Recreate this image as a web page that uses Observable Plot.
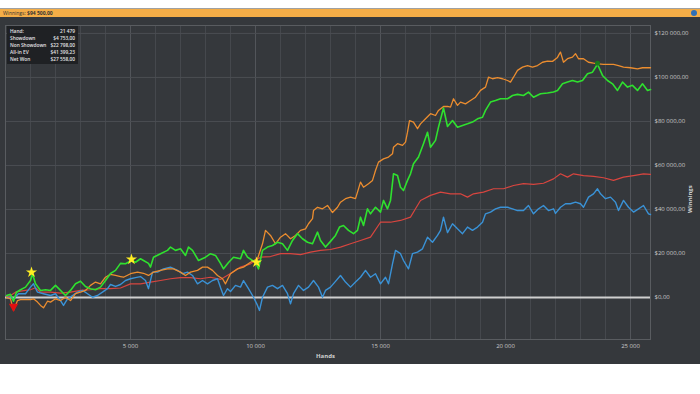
<!DOCTYPE html>
<html>
<head>
<meta charset="utf-8">
<script src="https://cdn.jsdelivr.net/npm/d3@7"></script>
<script src="https://cdn.jsdelivr.net/npm/@observablehq/plot@0.6"></script>
<style>
  body { margin:0; background:#fff; font-family:"Open Sans", "DejaVu Sans", sans-serif; }
  #wrap { position:relative; width:700px; height:394px; overflow:hidden; }
  #topline { position:absolute; top:8px; left:0; width:700px; height:1px; background:#a0a0a0; }
  #bar { position:absolute; top:9px; left:0; width:700px; height:8px; background:#f4ad47; font-size:5px; line-height:8px; color:#333; padding-left:3px; box-sizing:border-box; }
  #icon { position:absolute; top:10px; left:691px; width:6px; height:6px; border-radius:3px; background:#2f6fb5; }
  #dark { position:absolute; top:17px; left:0; width:700px; height:347px; background:#35383c; }
  #tip { position:absolute; top:26px; left:7px; width:71px; height:38px; background:#1f2124; color:#e4e4e4; font-size:4.8px; font-weight:600; }
  #tip .row { position:absolute; left:3px; right:3px; height:7px; line-height:7px; white-space:nowrap; }
  #tip .row span.v { position:absolute; right:0; }
</style>
</head>
<body>
<div id="wrap">
  <div id="topline"></div>
  <div id="bar">Winnings: <b>$94 500,00</b></div>
  <div id="icon"></div>
  <div id="dark"></div>
  <div id="tip"></div>
</div>
<script>
// ---- data (hands, values in $ thousands) ----
const greenHands = [40,200,320,440,600,800,1000,1080,1200,1400,1600,1800,2000,2200,2400,2600,2800,3000,3200,3400,3600,3800,4000,4200,4400,4600,4800,5040,5200,5400,5520,5720,5800,5920,6200,6480,6600,6800,7000,7200,7320,7480,7720,8000,8200,8400,8600,8720,8920,9120,9400,9520,9680,9880,10000,10120,10280,10480,10680,10880,11080,11280,11480,11680,11880,12080,12280,12480,12600,12800,13000,13200,13360,13520,13720,13920,14080,14200,14320,14480,14600,14800,15000,15120,15280,15400,15520,15680,15800,15920,16080,16200,16320,16520,16720,16880,17000,17200,17320,17520,17680,17880,18080,18280,18480,18680,18880,19080,19200,19400,19600,19800,20080,20280,20480,20720,20920,21120,21400,21680,21920,22080,22280,22480,22680,22880,23080,23280,23480,23680,23880,24080,24280,24480,24680,24880,25080,25280,25480,25680,25800];
const greenValues = [0.9,1.4,-1.7,2.4,3.5,4.7,7.7,10.8,6.2,3.2,3.5,3.2,5.5,3.2,0.9,3.2,6.2,7.4,5.0,4.0,3.5,4.7,7.7,10.9,12.3,15.5,15.3,16.8,16.0,17.6,16.8,15.5,13.8,18.3,19.9,21.4,22.9,21.4,22.1,19.1,22.9,21.4,16.8,18.3,19.9,19.1,15.5,13.0,15.9,18.3,17.6,21.4,18.3,16.8,16.0,13.0,21.4,22.9,23.6,25.1,24.4,21.4,25.9,29.0,26.7,25.1,24.4,29.7,25.9,22.9,25.5,28.2,32.0,32.7,30.5,29.0,30.5,36.5,32.7,40.3,38.0,41.0,38.8,44.1,40.3,44.1,56.2,55.4,50.1,48.6,53.2,56.2,60.8,63.8,69.9,75.1,68.3,71.4,77.4,86.1,77.7,80.4,77.4,78.2,78.9,79.7,81.2,81.9,85.0,88.8,89.5,90.3,90.3,91.8,92.3,91.8,93.3,91.0,92.6,92.9,93.4,94.1,97.1,97.9,98.6,97.9,98.6,101.7,102.4,106.0,100.9,98.6,97.1,94.1,97.9,95.6,96.4,94.1,97.1,94.1,94.5];

const orangeHands = [40,200,320,480,600,800,1000,1120,1280,1400,1520,1680,1800,2000,2200,2400,2600,2800,3000,3200,3400,3600,3800,4000,4200,4400,4600,4720,5000,5280,5520,5720,5920,6200,6480,6720,7000,7200,7400,7680,7880,8080,8280,8480,8680,8800,9000,9280,9520,9800,10080,10280,10400,10600,10800,11000,11200,11400,11600,11800,12000,12120,12280,12320,12480,12680,12880,13080,13280,13400,13600,13800,14000,14080,14200,14320,14520,14680,14800,14920,15120,15320,15480,15520,15680,15880,16000,16080,16160,16320,16480,16600,16800,17000,17200,17320,17520,17680,17800,17920,18080,18200,18400,18600,18800,19000,19200,19320,19480,19680,19880,20080,20200,20320,20480,20680,20880,21080,21280,21480,21680,21880,22080,22160,22200,22320,22480,22680,22800,22920,23120,23320,23520,23720,23920,24120,24320,24520,24720,25000,25280,25480,25800];
const orangeValues = [0,-0.6,-5.9,-1.4,-1.0,-1.0,-1.0,-0.6,-2.1,-3.6,-4.7,-1.7,-2.1,-0.6,-1.4,0.1,-1.4,1.7,2.4,3.2,5.5,7.0,6.2,9.2,10.5,10.0,9.5,9.2,10.8,11.5,11.0,10.0,11.5,12.3,13.0,13.0,11.5,10.0,11.5,12.3,13.8,13.8,12.3,10.0,8.5,6.2,10.8,13.0,13.8,16.0,17.6,24.4,30.5,28.2,24.4,27.4,29.0,26.7,28.2,30.5,31.2,33.5,35.8,39.5,41.0,40.3,41.8,38.6,41.0,43.3,44.9,45.6,44.9,47.9,52.4,50.1,51.7,53.2,57.7,61.5,63.0,63.8,65.3,68.3,69.9,69.1,70.6,75.1,80.4,79.7,76.7,78.9,81.2,83.5,82.7,85.0,86.8,86.8,86.5,90.3,87.3,88.8,88.0,89.5,91.0,94.1,95.6,100.1,99.4,99.9,99.4,98.6,97.9,100.1,103.2,104.7,105.4,104.7,105.4,106.9,107.4,107.3,109.1,110.8,111.5,106.9,108.5,109.2,110.8,108.5,108.5,106.9,106.5,106.2,105.9,105.9,105.9,105.4,104.7,104.4,103.9,104.4,104.4];

const redHands = [40,200,400,600,800,1000,1200,1400,1800,2200,2600,3000,3400,3800,4200,4600,5000,5400,5800,6200,6600,7000,7400,7800,8200,8600,9000,9400,9800,10200,10600,11000,11400,11800,12200,12600,13000,13400,13800,14200,14600,15000,15400,15800,16200,16400,16600,17000,17400,17800,18200,18480,18720,19120,19520,19920,20320,20720,21120,21520,21920,22200,22480,22720,23120,23520,23920,24320,24720,25120,25520,25800];
const redValues = [0,0.9,2.4,2.9,3.2,3.5,4.4,2.4,2.4,2.0,2.4,3.2,3.5,4.0,4.0,4.3,6.2,6.2,7.0,7.7,8.5,9.0,9.0,8.5,9.2,8.2,10.9,13.8,15.3,18.3,18.6,19.9,19.9,19.5,20.6,21.4,21.8,22.9,24.4,25.9,27.4,34.2,34.2,35.0,36.5,40.3,44.1,46.4,47.9,47.1,47.1,45.6,47.1,47.9,49.4,49.4,50.9,51.7,51.4,51.9,53.9,56.2,54.7,56.2,55.4,55.0,54.4,53.2,54.7,55.4,56.2,55.9];

const blueHands = [80,320,520,800,1000,1120,1280,1520,1800,2000,2200,2320,2480,2680,2880,3080,3280,3480,3680,3880,4080,4200,4400,4600,4800,5000,5200,5400,5600,5720,5880,6080,6320,6600,6880,7080,7280,7480,7680,7880,8080,8280,8480,8600,8720,8880,9000,9200,9400,9520,9720,9920,10080,10160,10280,10480,10680,10880,11080,11280,11400,11520,11720,11920,12120,12320,12520,12680,12800,13000,13200,13400,13600,13800,14000,14200,14400,14600,14800,15000,15200,15320,15480,15600,15800,15920,16120,16280,16480,16680,16880,17080,17280,17400,17520,17680,17880,18080,18280,18480,18680,18880,19080,19200,19400,19600,19800,20080,20280,20480,20720,20920,21120,21320,21520,21720,21920,22000,22200,22400,22600,22800,23000,23120,23320,23520,23680,23800,24000,24200,24400,24520,24720,24920,25120,25320,25520,25720,25800];
const blueValues = [0.1,-0.6,1.7,1.7,4.7,6.2,2.4,1.7,0.9,1.7,-1.4,-3.6,-0.6,0.9,2.4,3.2,1.7,0.1,0.9,2.4,4.0,5.9,5.0,5.9,7.7,8.5,9.0,9.5,7.7,4.0,11.5,11.5,13.0,13.8,12.3,10.8,11.5,10.0,6.2,7.7,6.2,7.7,8.5,4.5,0.9,4.0,2.7,5.5,4.7,7.7,4.0,0.1,-3.6,-5.9,0.1,4.7,5.5,4.0,5.5,1.7,-2.9,1.7,5.5,3.2,4.7,7.7,4.7,0.1,3.2,4.7,7.3,10.0,7.0,4.7,7.0,9.2,12.3,9.2,10.8,6.2,9.2,6.2,15.3,21.4,19.9,16.8,13.0,19.9,20.6,22.1,27.4,25.1,28.2,30.5,36.5,29.5,33.5,31.2,29.0,32.0,30.5,32.0,34.2,38.0,38.8,40.3,41.0,41.0,40.3,39.5,39.5,41.8,38.0,40.3,41.8,39.5,40.3,38.2,41.0,42.6,42.6,43.3,42.6,41.0,45.6,47.1,49.4,47.1,44.9,45.6,43.3,39.5,44.1,41.0,38.8,40.3,41.8,38.0,37.7];

const starHands = [1040, 5040, 10040];
const starValues = [11.4, 17.3, 16.0];
const lossHands = [320];
const lossValues = [-4.1];
const peakHands = [23680];
const peakValues = [106.4];

const xTicks = [5000, 10000, 15000, 20000, 25000];
const xMinor = d3.range(1000, 26000, 1000);
const yTicks = [0, 20, 40, 60, 80, 100, 120];

const tipLabels = ["Hand:", "Showdown", "Non Showdown", "All-in EV", "Net Won"];
const tipValues = ["21 479", "$4 753,00", "$22 798,00", "$41 399,23", "$27 558,00"];

// ---- tooltip box ----
const tip = document.getElementById("tip");
tipLabels.forEach((l, i) => {
  const r = document.createElement("div");
  r.className = "row";
  r.style.top = (2 + i * 7) + "px";
  r.innerHTML = `<span>${l}</span><span class="v">${tipValues[i]}</span>`;
  tip.appendChild(r);
});

// ---- chart ----
const loc = d3.formatLocale({decimal: ",", thousands: " ", grouping: [3], currency: ["$", ""]});
const fmtInt = loc.format(",d");
const money = v => "$" + fmtInt(Math.round(v * 1000)) + ",00";

const toRows = (hs, vs) => hs.map((h, i) => ({h, v: vs[i]}));
const series = [
  {rows: toRows(redHands, redValues), color: "#d8453f", w: 1.2},
  {rows: toRows(blueHands, blueValues), color: "#3a92d6", w: 1.4},
  {rows: toRows(orangeHands, orangeValues), color: "#ec8d2f", w: 1.3},
  {rows: toRows(greenHands, greenValues), color: "#2fe02f", w: 1.6}
];

const chart = Plot.plot({
  width: 700,
  height: 347,
  marginLeft: 5,
  marginRight: 50,
  marginTop: 8,
  marginBottom: 25,
  style: {background: "transparent", color: "#c9c9c9", fontFamily: "'Open Sans', sans-serif", fontSize: "6px", overflow: "visible"},
  x: {domain: [0, 25800], axis: null},
  y: {domain: [-19.1, 123.6], axis: null},
  marks: [
    Plot.ruleX(xMinor, {stroke: "#45484d", strokeWidth: 1}),
    Plot.ruleX(xTicks, {stroke: "#52555a", strokeWidth: 1}),
    Plot.ruleY(yTicks.filter(d => d !== 0), {stroke: "#4b4e53", strokeWidth: 1}),
    Plot.frame({stroke: "#595c60"}),
    Plot.ruleY([0], {stroke: "#cfcfcf", strokeWidth: 2}),
    ...series.map(s => Plot.line(s.rows, {x: "h", y: "v", stroke: s.color, strokeWidth: s.w, strokeLinejoin: "round"})),
    Plot.dot(toRows(starHands, starValues), {x: "h", y: "v", symbol: "star", fill: "#ffee22", stroke: "none", r: 3.5}),
    Plot.dot(toRows(lossHands, lossValues), {x: "h", y: "v", symbol: "triangle", fill: "#e01010", stroke: "none", r: 3.5, rotate: 180}),
    Plot.dot(toRows(peakHands, peakValues), {x: "h", y: "v", symbol: "circle", fill: "#1a7a1a", stroke: "none", r: 2.5}),
    Plot.axisX(xTicks, {tickSize: 0, tickPadding: 4, tickFormat: d => fmtInt(d), fontSize: 6, label: null}),
    Plot.axisY(yTicks, {anchor: "right", tickSize: 0, tickPadding: 4, tickFormat: money, fontSize: 6, label: null}),
    Plot.text(["Hands"], {frameAnchor: "bottom", x: 12800, dy: 18, fontWeight: "bold", fontSize: 6, fill: "#d0d0d0"}),
    Plot.text(["Winnings"], {frameAnchor: "right", dx: 40, y: 51, rotate: -90, fontWeight: "bold", fontSize: 6, fill: "#d0d0d0"})
  ]
});
document.getElementById("dark").appendChild(chart);
</script>
</body>
</html>
